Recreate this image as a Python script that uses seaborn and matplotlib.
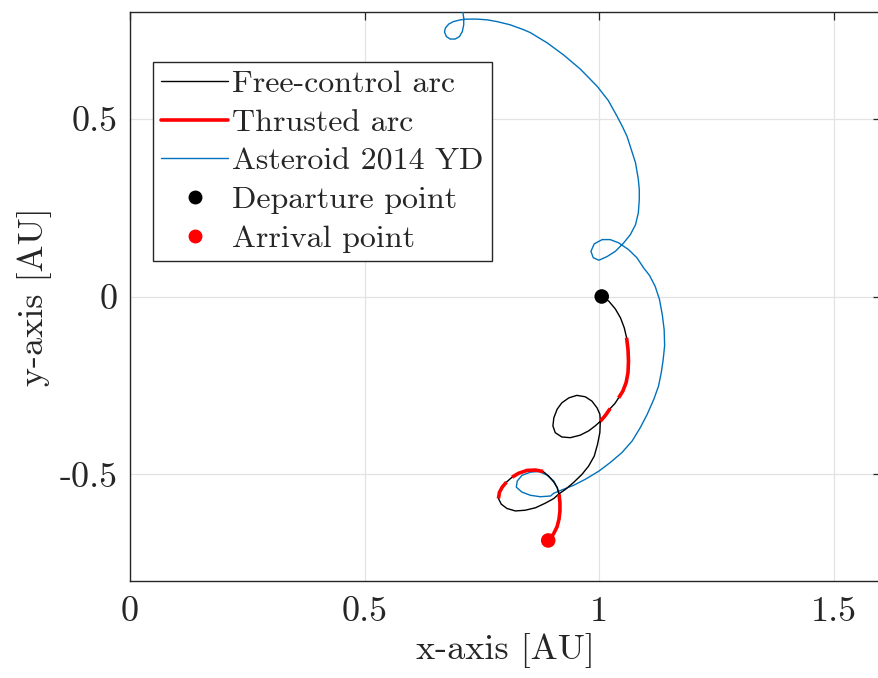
import numpy as np
import pandas as pd
import seaborn as sns
import matplotlib
matplotlib.use("Agg")
import matplotlib.pyplot as plt
from matplotlib.lines import Line2D

# ---------------- data (AU) ----------------
ast_x = [0.709, 0.711, 0.711, 0.708, 0.702, 0.693, 0.682, 0.674, 0.670, 0.672, 0.679, 0.689,
         0.704, 0.718, 0.739, 0.761, 0.782, 0.810, 0.839, 0.853, 0.889, 0.923, 0.959, 0.996, 1.019,
         1.038, 1.049, 1.059, 1.068, 1.077, 1.083, 1.085, 1.085, 1.083, 1.077, 1.066, 1.052,
         1.034, 1.016, 0.999, 0.987, 0.982, 0.989, 1.006, 1.023, 1.041, 1.062, 1.080, 1.094,
         1.107, 1.119, 1.128, 1.134, 1.138, 1.139, 1.136, 1.132, 1.126, 1.116, 1.102, 1.087,
         1.070, 1.048, 1.023, 0.999, 0.970, 0.945, 0.920, 0.903, 0.896, 0.874, 0.853, 0.835,
         0.823, 0.825, 0.835, 0.853, 0.871, 0.888, 0.903, 0.911, 0.914]
ast_y = [0.801, 0.783, 0.764, 0.745, 0.731, 0.724, 0.724, 0.731, 0.744, 0.755, 0.766, 0.773,
         0.778, 0.780, 0.780, 0.778, 0.773, 0.764, 0.750, 0.742, 0.713, 0.680, 0.640, 0.590, 0.551,
         0.506, 0.478, 0.450, 0.413, 0.376, 0.329, 0.301, 0.272, 0.235, 0.202, 0.174, 0.151,
         0.127, 0.112, 0.102, 0.109, 0.127, 0.148, 0.160, 0.160, 0.151, 0.132, 0.109, 0.081,
         0.059, 0.028, -0.008, -0.051, -0.093, -0.138, -0.177, -0.213, -0.252, -0.289, -0.331, -0.369,
         -0.406, -0.439, -0.467, -0.491, -0.514, -0.531, -0.544, -0.553, -0.561, -0.563, -0.559, -0.550,
         -0.536, -0.519, -0.503, -0.494, -0.492, -0.502, -0.519, -0.540, -0.556]

traj_x = [1.005, 1.020, 1.034, 1.045, 1.053, 1.058, 1.061, 1.062, 1.061, 1.057, 1.050, 1.041,
          1.033, 1.023, 1.013, 1.002, 0.991, 0.977, 0.959, 0.938, 0.920, 0.906, 0.901, 0.903,
          0.910, 0.920, 0.935, 0.952, 0.970, 0.984, 0.995, 1.001, 1.002, 1.001, 0.996, 0.989,
          0.977, 0.963, 0.945, 0.928, 0.913, 0.903, 0.885, 0.864, 0.842, 0.821, 0.803, 0.791,
          0.785, 0.787, 0.793, 0.802, 0.814, 0.828, 0.846, 0.864, 0.880, 0.892, 0.903, 0.910,
          0.914, 0.916, 0.916, 0.914, 0.910, 0.903, 0.894, 0.891]
traj_y = [0.000, -0.013, -0.035, -0.060, -0.088, -0.116, -0.149, -0.182, -0.214, -0.242, -0.266, -0.285,
          -0.301, -0.315, -0.334, -0.351, -0.364, -0.378, -0.390, -0.397, -0.395, -0.383, -0.364, -0.341,
          -0.317, -0.299, -0.285, -0.278, -0.282, -0.294, -0.313, -0.331, -0.350, -0.383, -0.416, -0.449,
          -0.477, -0.500, -0.523, -0.542, -0.556, -0.568, -0.581, -0.594, -0.601, -0.603, -0.596, -0.584,
          -0.568, -0.551, -0.536, -0.522, -0.508, -0.497, -0.489, -0.488, -0.492, -0.505, -0.522, -0.537,
          -0.556, -0.580, -0.603, -0.626, -0.647, -0.666, -0.683, -0.686]

# thrusted arcs (start/end indices into the trajectory)
thrust_arcs = [(5, 11), (13, 15), (48, 51), (52, 56), (60, 67)]

departure = (1.005, 0.000)
arrival = (0.891, -0.686)

x_ticks = [0, 0.5, 1, 1.5]
x_tick_labels = ["0", "0.5", "1", "1.5"]
y_ticks = [-0.5, 0, 0.5]
y_tick_labels = ["-0.5", "0", "0.5"]

labels = ["Free-control arc", "Thrusted arc", "Asteroid 2014 YD",
          "Departure point", "Arrival point"]

# ---------------- style ----------------
sns.set_theme(style="white")
plt.rcParams["font.family"] = ["cmr10", "DejaVu Serif"]
plt.rcParams["mathtext.fontset"] = "cm"
plt.rcParams["axes.unicode_minus"] = False
plt.rcParams["axes.formatter.use_mathtext"] = True

BLUE = "#0072BD"
AXC = "#262626"

fig = plt.figure(figsize=(8.79, 6.78), dpi=100)
ax = fig.add_axes([130 / 879, 97 / 678, 751 / 879, 569 / 678])

ast_df = pd.DataFrame({"x": ast_x, "y": ast_y})
traj_df = pd.DataFrame({"x": traj_x, "y": traj_y})

sns.lineplot(data=ast_df, x="x", y="y", sort=False, estimator=None,
             color=BLUE, lw=1.0, ax=ax, zorder=3)
sns.lineplot(data=traj_df, x="x", y="y", sort=False, estimator=None,
             color="black", lw=1.0, ax=ax, zorder=4)
for a, b in thrust_arcs:
    seg = traj_df.iloc[a:b + 1]
    sns.lineplot(data=seg, x="x", y="y", sort=False, estimator=None,
                 color="red", lw=2.6, ax=ax, zorder=5, solid_capstyle="butt")

sns.scatterplot(x=[departure[0]], y=[departure[1]], color="black", s=110,
                edgecolor="none", ax=ax, zorder=6)
sns.scatterplot(x=[arrival[0]], y=[arrival[1]], color="red", s=110,
                edgecolor="none", ax=ax, zorder=6)

ax.set_xlim(0, 1.6)
ax.set_ylim(-0.8, 0.8)
ax.set_xticks(x_ticks)
ax.set_xticklabels(x_tick_labels)
ax.set_yticks(y_ticks)
ax.set_yticklabels(y_tick_labels)
ax.grid(True, color="#e3e3e3", lw=0.9)
ax.set_axisbelow(True)
for sp in ax.spines.values():
    sp.set_color(AXC)
    sp.set_linewidth(1.0)
ax.tick_params(direction="in", length=6, width=0.9, color=AXC,
               top=True, right=True, labelsize=26, labelcolor=AXC)
ax.tick_params(axis="x", pad=11)
ax.tick_params(axis="y", pad=9)
ax.set_xlabel("x-axis [AU]", fontsize=26, color=AXC, labelpad=4)
ax.set_ylabel("y-axis [AU]", fontsize=26, color=AXC, labelpad=5)

handles = [
    Line2D([], [], color="black", lw=1.0),
    Line2D([], [], color="red", lw=2.6),
    Line2D([], [], color=BLUE, lw=1.0),
    Line2D([], [], color="black", marker="o", ls="none", ms=9),
    Line2D([], [], color="red", marker="o", ls="none", ms=9),
]
leg = ax.legend(handles, labels, loc="upper left", bbox_to_anchor=(0.031, 0.912),
                fontsize=23, frameon=True, fancybox=False, framealpha=1,
                edgecolor=AXC, handlelength=2.1, handletextpad=0.12,
                labelspacing=0.32, borderpad=0.25, borderaxespad=0)
leg.get_frame().set_linewidth(1.0)

fig.savefig("out.png", dpi=100)
